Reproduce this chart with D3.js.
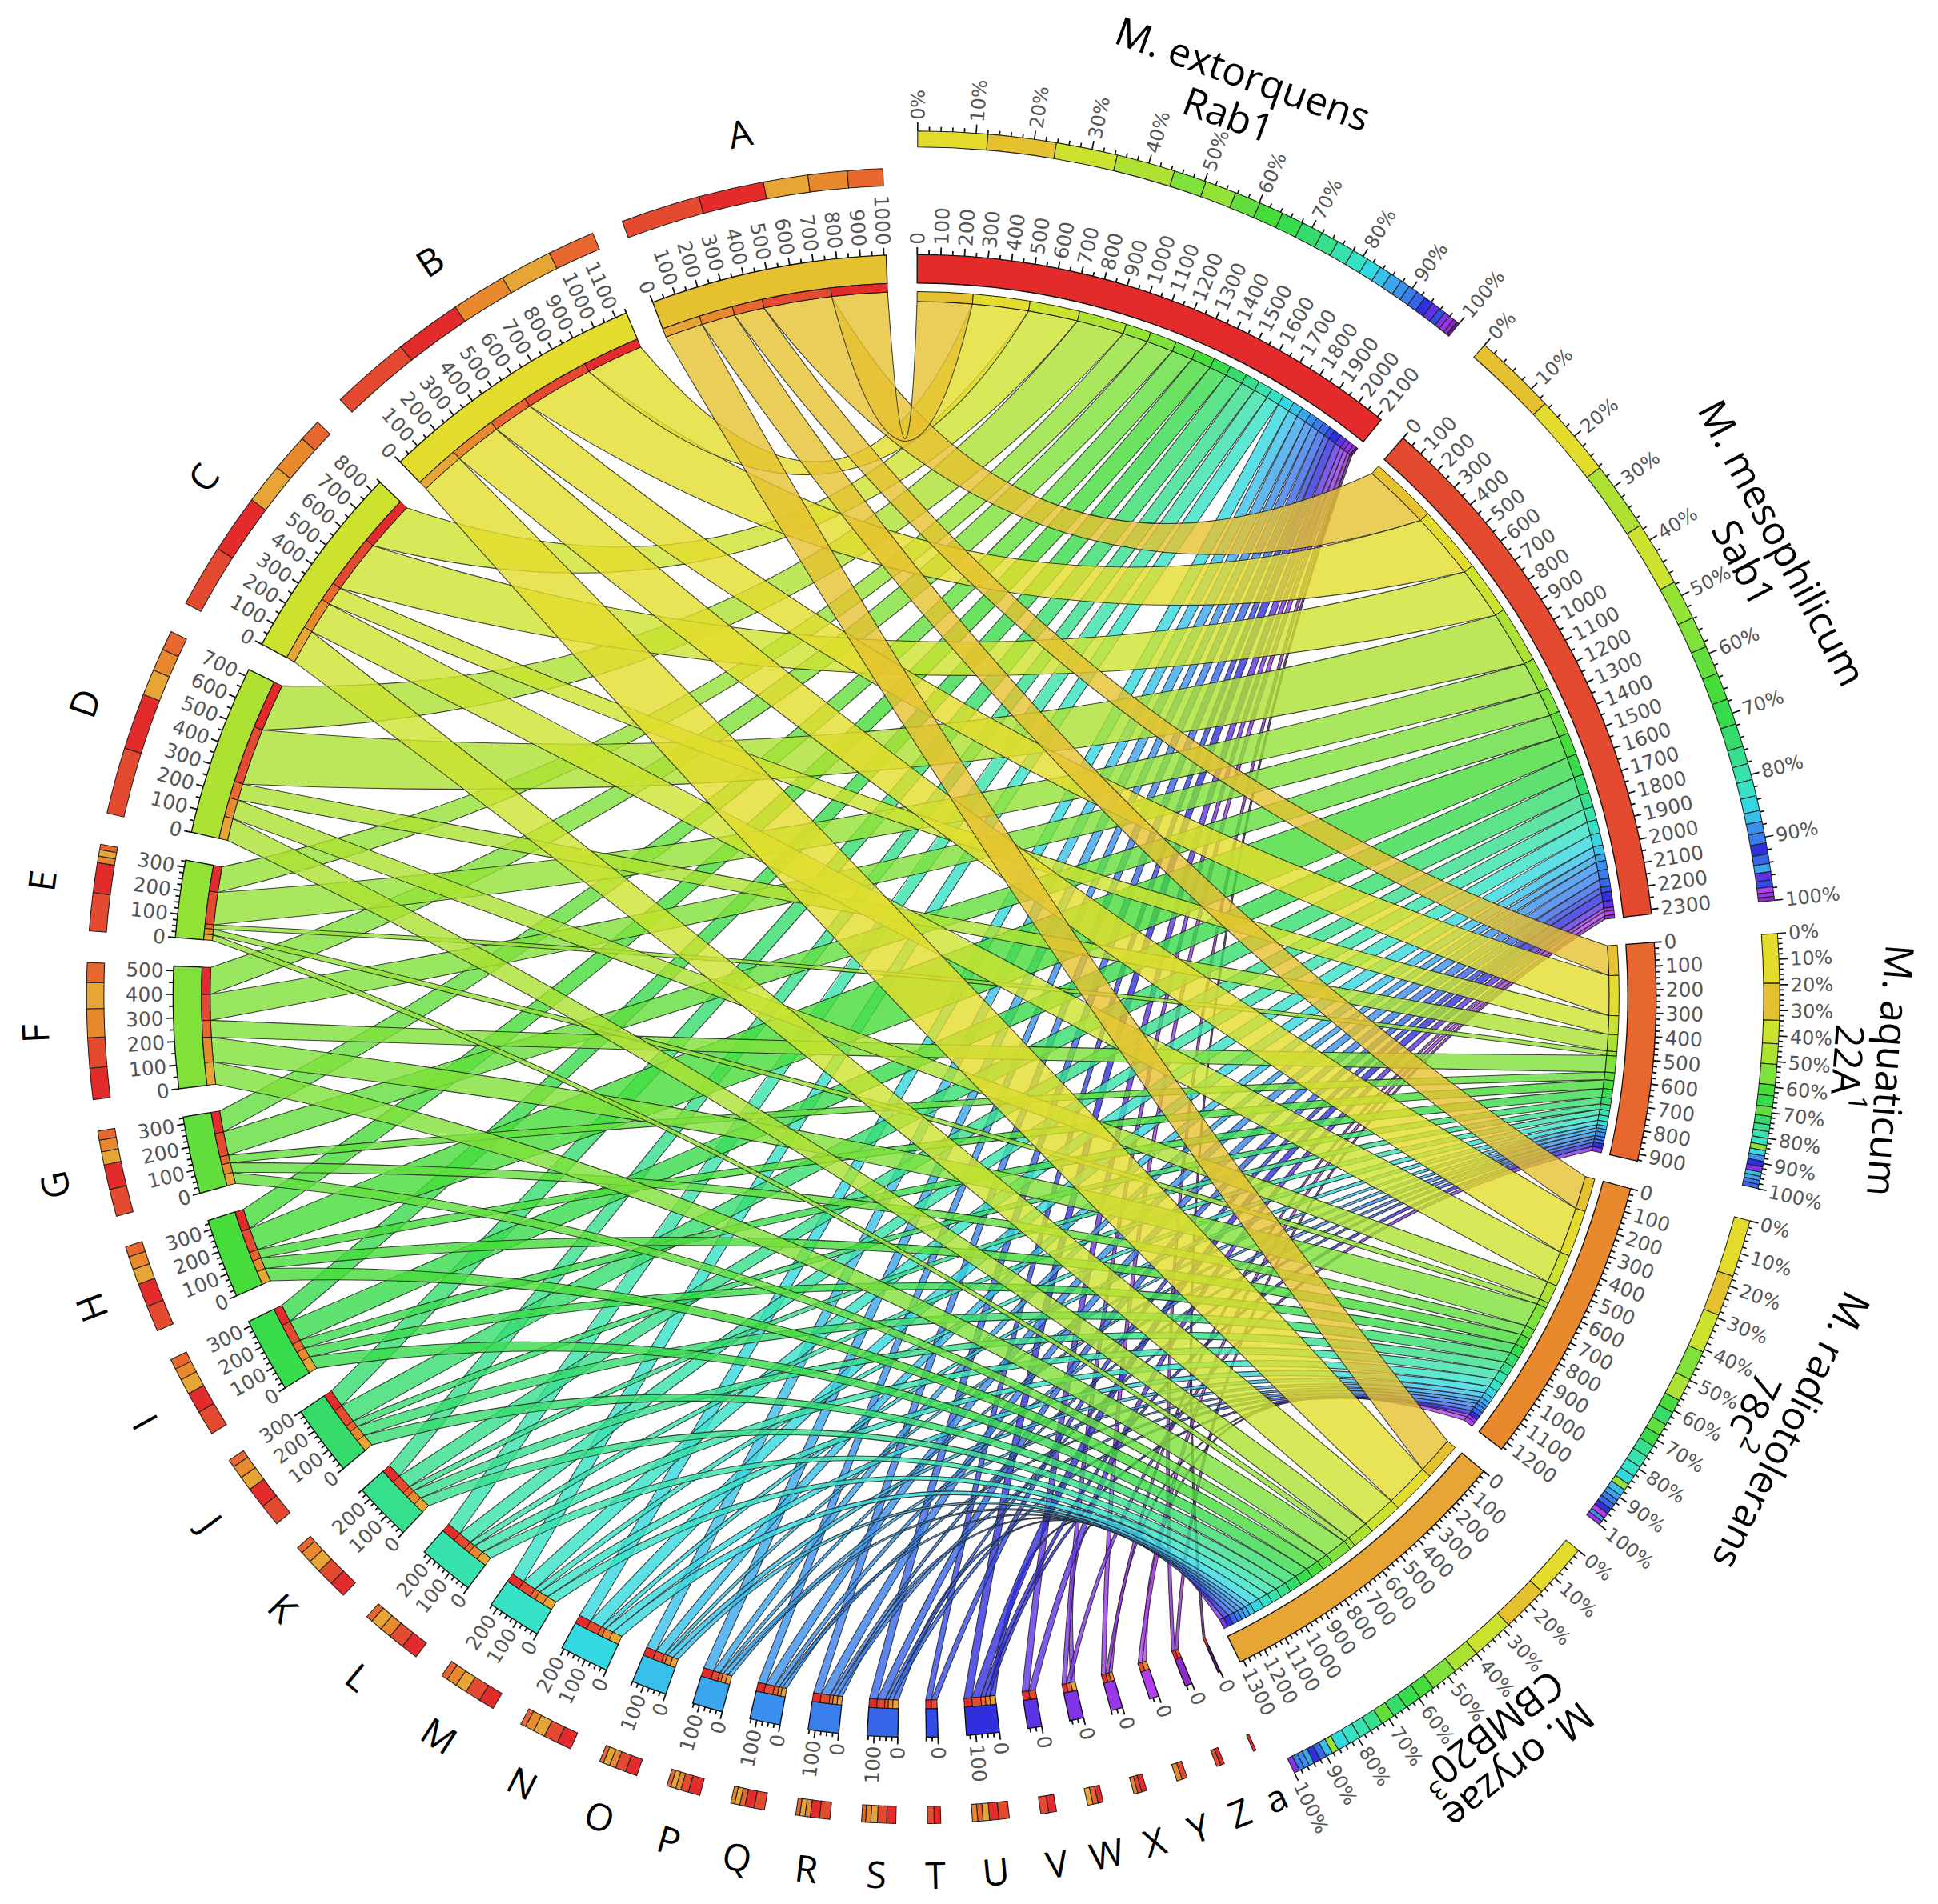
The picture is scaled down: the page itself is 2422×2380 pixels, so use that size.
<!DOCTYPE html>
<html>
<head>
<meta charset="utf-8">
<title>Methylobacterium chord map</title>
<script src="https://cdn.jsdelivr.net/npm/d3@7"></script>
<style>
  body { margin: 0; background: #ffffff; }
  #chart svg { display: block; }
  .tick-label { font-family: "DejaVu Sans", sans-serif; fill: #555; }
  .big-label { font-family: "Open Sans", "DejaVu Sans", sans-serif; fill: #000; }
</style>
</head>
<body>
<div id="chart"></div>
<script>

// genomes on the right half, clockwise from the top
var genomes = ["M. extorquens", "M. mesophilicum", "M. aquaticum", "M. radiotolerans", "M. oryzae"];
var strains = ["Rab1", "Sab1", "22A", "78c", "CBMB20"];
var strainNotes = ["", "", "1", "2", "3"];

// groups on the left half, counter-clockwise from the top
var groups = ["A","B","C","D","E","F","G","H","I","J","K","L","M","N",
              "O","P","Q","R","S","T","U","V","W","X","Y","Z","a"];

// size of the link from each group (A..a) to each genome
var toExtorquens    = [250,255,225,215,115,120, 95, 90, 80, 80, 65, 65, 60, 55, 45, 45, 35, 35, 35, 25, 35, 30, 20, 20,  0, 15, 10];
var toMesophilicum  = [305,305,240,255,145,115,105,100, 95, 85, 65, 60, 60, 55, 40, 30, 40, 40, 35, 25, 40, 30,  0, 15, 20, 15,  0];
var toAquaticum     = [135,180, 85, 75, 20, 75, 35, 40, 40, 30, 25, 25, 25, 20, 15, 15, 20, 15, 15,  0, 20,  0, 20,  0,  0,  0,  0];
var toRadiotolerans = [150,210,145, 85, 25,110, 45, 50, 45, 50, 45, 45, 40, 35, 25, 20, 15, 20, 20,  0, 20,  0,  0, 15, 20,  0,  0];
var toOryzae        = [170,200,155,100, 25,100, 50, 60, 60, 55, 50, 45, 45, 45, 25, 20, 20, 20, 25,  0, 25,  0, 20,  0,  0,  0,  0];

// colours
var genomeColors = ["#e42b2b", "#e44a30", "#e8672e", "#e8892e", "#e6a535"];
var groupColors = ["#e6c12f","#e3dc2c","#cde22e","#ade132","#93e236","#80e13a","#62df3c",
                   "#46dc3a","#38db4c","#35dc6c","#36df8c","#38e2ad","#36e2c6","#33d8e0",
                   "#36c0ea","#39a6ee","#3a90ee","#3a7eec","#3566e8","#344ae4","#302fe0",
                   "#5e33e6","#7f34e8","#9a36ea","#b13ef0","#8c2cc8","#5a1f80"];

var W = 1568, H = 1541;
var deg = Math.PI / 180;

var svg = d3.select("#chart").append("svg")
    .attr("width", 2422)
    .attr("height", 2380)
    .attr("viewBox", "0 0 " + W + " " + H);
var g = svg.append("g").attr("transform", "translate(740,806)");

var matrix = [toExtorquens, toMesophilicum, toAquaticum, toRadiotolerans, toOryzae];

// gaps: inside each half, between oryzae and a, between A and extorquens
var gap = 2.2 * deg, gapBottom = 1.7 * deg, gapTop = 2.4 * deg;
var startAngle = 0.2 * deg;

// radii
var rRibGroup = 570, rRibGenome = 562;
var rBand0 = 577, rBand1 = 600;
var rHeat0 = 656, rHeat1 = 670;
var rPct0 = 687, rPct1 = 700;

// segments in clockwise order: genomes, then groups a..A
var segs = [];
genomes.forEach(function(name, j) {
    segs.push({kind: "genome", idx: j, len: d3.sum(matrix[j])});
});
for (var i = groups.length - 1; i >= 0; i--) {
    segs.push({kind: "group", idx: i, len: d3.sum(matrix, function(col) { return col[i]; })});
}

var gaps = segs.map(function(s, n) {
    if (n === genomes.length - 1) return gapBottom;
    if (n === segs.length - 1) return gapTop;
    return gap;
});
var k = (2 * Math.PI - d3.sum(gaps)) / d3.sum(segs, function(d) { return d.len; });
var pos = startAngle;
segs.forEach(function(s, n) {
    s.start = pos;
    s.end = pos + s.len * k;
    s.scale = d3.scaleLinear().domain([0, s.len]).range([s.start, s.end]);
    pos = s.end + gaps[n];
});
var genomeSeg = segs.filter(function(s) { return s.kind === "genome"; });
var groupSeg = {};
segs.filter(function(s) { return s.kind === "group"; }).forEach(function(s) { groupSeg[s.idx] = s; });

// link ends: on a genome ordered A..a, on a group ordered oryzae..extorquens
var links = [], linkAt = {};
genomes.forEach(function(name, j) {
    var off = 0, s = genomeSeg[j];
    groups.forEach(function(gname, i) {
        var v = matrix[j][i];
        if (v > 0) {
            var l = {group: i, genome: j, value: v, t0: s.scale(off), t1: s.scale(off + v)};
            links.push(l);
            linkAt[i + "_" + j] = l;
            off += v;
        }
    });
});
groups.forEach(function(gname, i) {
    var off = 0, s = groupSeg[i];
    for (var j = genomes.length - 1; j >= 0; j--) {
        var l = linkAt[i + "_" + j];
        if (!l) continue;
        l.s0 = s.scale(off);
        l.s1 = s.scale(off + l.value);
        off += l.value;
    }
});

// ribbons
var purity = 0.45, bezR = 56, rMid = (rRibGroup + rRibGenome) / 2;
function pt(r, a) { return [r * Math.sin(a), -r * Math.cos(a)]; }
function ctrl(a, b) {
    var x = Math.sin(a) + Math.sin(b), y = -Math.cos(a) - Math.cos(b);
    var len = Math.sqrt(x * x + y * y);
    if (len < 1e-6) return [0, 0];
    var d = Math.acos(Math.max(-1, Math.min(1, Math.cos(a - b))));
    var rc = (1 - purity) * rMid * Math.cos(d / 2) + purity * bezR;
    return [x / len * rc, y / len * rc];
}
function ribbon(l) {
    var p = d3.path();
    var s0 = pt(rRibGroup, l.s0), t0 = pt(rRibGenome, l.t0);
    var c1 = ctrl(l.s1, l.t0), c2 = ctrl(l.t1, l.s0);
    p.moveTo(s0[0], s0[1]);
    p.arc(0, 0, rRibGroup, l.s0 - Math.PI / 2, l.s1 - Math.PI / 2);
    p.quadraticCurveTo(c1[0], c1[1], t0[0], t0[1]);
    p.arc(0, 0, rRibGenome, l.t0 - Math.PI / 2, l.t1 - Math.PI / 2);
    p.quadraticCurveTo(c2[0], c2[1], s0[0], s0[1]);
    p.closePath();
    return p.toString();
}

var drawOrder = links.slice().sort(function(a, b) { return b.group - a.group || b.genome - a.genome; });
g.append("g").selectAll("path")
    .data(drawOrder)
  .enter().append("path")
    .attr("d", ribbon)
    .attr("fill", function(d) { return groupColors[d.group]; })
    .attr("fill-opacity", 0.8)
    .attr("stroke", "#222")
    .attr("stroke-opacity", 0.85)
    .attr("stroke-width", 0.7);

var arc = d3.arc()
    .innerRadius(function(d) { return d.r0; })
    .outerRadius(function(d) { return d.r1; })
    .startAngle(function(d) { return d.a0; })
    .endAngle(function(d) { return d.a1; });

function segColor(s) { return s.kind === "genome" ? genomeColors[s.idx] : groupColors[s.idx]; }

// main bands
g.append("g").selectAll("path")
    .data(segs)
  .enter().append("path")
    .attr("d", function(s) { return arc({r0: rBand0, r1: rBand1, a0: s.start, a1: s.end}); })
    .attr("fill", segColor)
    .attr("stroke", "#111")
    .attr("stroke-width", 0.9);

// inner strips showing the colour of the other end
var strips = [];
links.forEach(function(l) {
    strips.push({r0: rRibGroup, r1: rBand0, a0: l.s0, a1: l.s1, color: genomeColors[l.genome]});
    strips.push({r0: rRibGenome, r1: rRibGenome + 8, a0: l.t0, a1: l.t1, color: groupColors[l.group]});
});
g.append("g").selectAll("path")
    .data(strips)
  .enter().append("path")
    .attr("d", arc)
    .attr("fill", function(d) { return d.color; })
    .attr("stroke", "#111")
    .attr("stroke-width", 0.6);

// outer composition rings
var rings = [];
segs.forEach(function(s) {
    var items;
    if (s.kind === "group") {
        items = genomes.map(function(n, j) { return {v: matrix[j][s.idx], color: genomeColors[j]}; });
    } else {
        items = groups.map(function(n, i) { return {v: matrix[s.idx][i], color: groupColors[i]}; });
    }
    items = items.filter(function(d) { return d.v > 0; })
        .sort(function(a, b) { return b.v - a.v; });
    var off = 0;
    var r0 = s.kind === "group" ? rHeat0 : rPct0, r1 = s.kind === "group" ? rHeat1 : rPct1;
    items.forEach(function(d) {
        rings.push({r0: r0, r1: r1, a0: s.scale(off), a1: s.scale(off + d.v), color: d.color});
        off += d.v;
    });
});
g.append("g").selectAll("path")
    .data(rings)
  .enter().append("path")
    .attr("d", arc)
    .attr("fill", function(d) { return d.color; })
    .attr("stroke", "#222")
    .attr("stroke-width", 0.7);

// radial text helper
function radialLabel(parent, angle, r, text, size) {
    var dg = angle / deg;
    var norm = ((dg % 360) + 360) % 360;
    var outward = norm < 180;
    parent.append("text")
        .attr("class", "tick-label")
        .attr("transform", "rotate(" + (dg - 90) + ") translate(" + r + ",0)" + (outward ? "" : " rotate(180)"))
        .attr("text-anchor", outward ? "start" : "end")
        .attr("dy", "0.36em")
        .style("font-size", size + "px")
        .text(text);
}

// scale ticks on the bands
var tickG = g.append("g");
segs.forEach(function(s) {
    var step = (s.kind === "genome" && s.len < 1500) || s.len < 400 ? 25 : 50;
    d3.range(0, s.len + 0.001, step).forEach(function(u) {
        var a = s.scale(u), major = u % 100 === 0;
        var p0 = pt(rBand1, a), p1 = pt(rBand1 + (major ? 6 : 3.5), a);
        tickG.append("line")
            .attr("x1", p0[0]).attr("y1", p0[1]).attr("x2", p1[0]).attr("y2", p1[1])
            .attr("stroke", "#111").attr("stroke-width", 1.2);
        if (major) radialLabel(tickG, a, rBand1 + 8, u, 16);
    });
});

// percentage ticks on the genome rings
genomeSeg.forEach(function(s) {
    var pct = d3.scaleLinear().domain([0, 100]).range([s.start, s.end]);
    d3.range(0, 101, 2).forEach(function(u) {
        var a = pct(u), major = u % 10 === 0;
        var p0 = pt(rPct1, a), p1 = pt(rPct1 + (major ? 7 : 3.5), a);
        tickG.append("line")
            .attr("x1", p0[0]).attr("y1", p0[1]).attr("x2", p1[0]).attr("y2", p1[1])
            .attr("stroke", "#111").attr("stroke-width", 1.1);
        if (major) radialLabel(tickG, a, rPct1 + 9, u + "%", 15.5);
    });
});

// group letters
var labelG = g.append("g");
groups.forEach(function(name, i) {
    var s = groupSeg[i];
    var a = (s.start + s.end) / 2, dg = a / deg;
    var norm = ((dg % 360) + 360) % 360;
    var rot = (norm >= 240 || norm < 90) ? dg : dg - 180;
    var p = pt(712, a);
    labelG.append("text")
        .attr("class", "big-label")
        .attr("transform", "translate(" + p[0] + "," + p[1] + ") rotate(" + rot + ")")
        .attr("text-anchor", "middle")
        .attr("dy", "0.36em")
        .style("font-size", "30px")
        .text(name);
});

// genome names
genomes.forEach(function(name, j) {
    var s = genomeSeg[j];
    var a = (s.start + s.end) / 2, dg = a / deg;
    var p = pt(792, a), q = pt(757, a);
    labelG.append("text")
        .attr("class", "big-label")
        .attr("transform", "translate(" + p[0] + "," + p[1] + ") rotate(" + dg + ")")
        .attr("text-anchor", "middle")
        .attr("dy", "0.36em")
        .style("font-size", "32px")
        .text(name);
    var t = labelG.append("text")
        .attr("class", "big-label")
        .attr("transform", "translate(" + q[0] + "," + q[1] + ") rotate(" + dg + ")")
        .attr("text-anchor", "middle")
        .attr("dy", "0.36em")
        .style("font-size", "32px");
    t.append("tspan").text(strains[j]);
    if (strainNotes[j]) {
        t.append("tspan").attr("dy", "-0.7em").style("font-size", "21px").text(strainNotes[j]);
    }
});

</script>
</body>
</html>
